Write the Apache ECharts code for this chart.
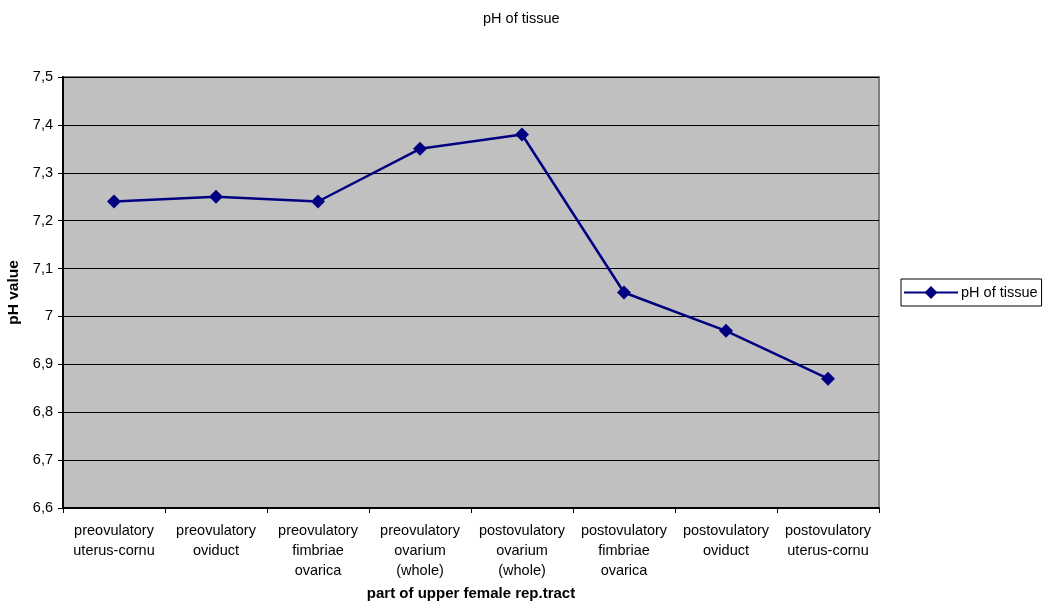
<!DOCTYPE html>
<html>
<head>
<meta charset="utf-8">
<script src="https://cdn.jsdelivr.net/npm/echarts@6/dist/echarts.min.js"></script>
<style>
  html, body { margin: 0; padding: 0; background: #fff; }
  #chart { width: 1045px; height: 603px; }
</style>
</head>
<body>
<div id="chart"></div>
<script>
// Tissue sites along the upper female reproductive tract
const categories = [
  'preovulatory\nuterus-cornu',
  'preovulatory\noviduct',
  'preovulatory\nfimbriae\novarica',
  'preovulatory\novarium\n(whole)',
  'postovulatory\novarium\n(whole)',
  'postovulatory\nfimbriae\novarica',
  'postovulatory\noviduct',
  'postovulatory\nuterus-cornu'
];
// Measured pH per site
const phValues = [7.24, 7.25, 7.24, 7.35, 7.38, 7.05, 6.97, 6.87];
const seriesName = 'pH of tissue';
const yMin = 6.6, yMax = 7.5, yStep = 0.1;

const font = 'Liberation Sans, Arial, sans-serif';
const chart = echarts.init(document.getElementById('chart'));

chart.setOption({
  animation: false,
  backgroundColor: '#ffffff',
  title: {
    text: 'pH of tissue',
    left: 478, top: 6,
    textStyle: { fontFamily: font, fontSize: 14.5, fontWeight: 'normal', color: '#000' }
  },
  legend: {
    data: [seriesName],
    left: 901, top: 279,
    width: 140,
    borderColor: '#000', borderWidth: 1,
    padding: [6, 4, 6, 2],
    itemWidth: 54, itemHeight: 16, itemGap: 0,
    textStyle: { fontFamily: font, fontSize: 14.5, color: '#000', padding: [0, 0, 0, -2] }
  },
  grid: {
    left: 63, right: 166, top: 77, bottom: 95,
    outerBoundsMode: 'none',
    containLabel: false,
    show: true,
    backgroundColor: '#C0C0C0',
    borderColor: '#808080', borderWidth: 2
  },
  xAxis: {
    type: 'category',
    data: categories,
    boundaryGap: true,
    name: 'part of upper female rep.tract',
    nameLocation: 'middle',
    nameGap: 78,
    nameTextStyle: { fontFamily: font, fontSize: 15, fontWeight: 'bold', color: '#000' },
    axisLine: { lineStyle: { color: '#000', width: 2 } },
    axisTick: { show: true, alignWithLabel: false, length: 5, lineStyle: { color: '#000' } },
    axisLabel: {
      interval: 0, margin: 13, color: '#000',
      fontFamily: font, fontSize: 14.5, lineHeight: 20
    },
    splitLine: { show: false }
  },
  yAxis: {
    type: 'value',
    min: yMin, max: yMax, interval: yStep,
    name: 'pH value',
    nameLocation: 'middle',
    nameRotate: 90,
    nameGap: 31,
    nameTextStyle: { fontFamily: font, fontSize: 15.5, fontWeight: 'bold', color: '#000' },
    axisLine: { show: true, lineStyle: { color: '#000', width: 2 } },
    axisTick: { show: true, length: 5, lineStyle: { color: '#000' } },
    axisLabel: {
      margin: 10, color: '#000', fontFamily: font, fontSize: 14.5,
      formatter: v => String(Math.round(v * 10) / 10).replace('.', ',')
    },
    splitLine: { show: true, lineStyle: { color: '#000', width: 1 } }
  },
  series: [{
    name: seriesName,
    type: 'line',
    data: phValues,
    symbol: 'diamond',
    symbolSize: 14,
    lineStyle: { color: '#000080', width: 2.5 },
    itemStyle: { color: '#000080' }
  }]
});
</script>
</body>
</html>
